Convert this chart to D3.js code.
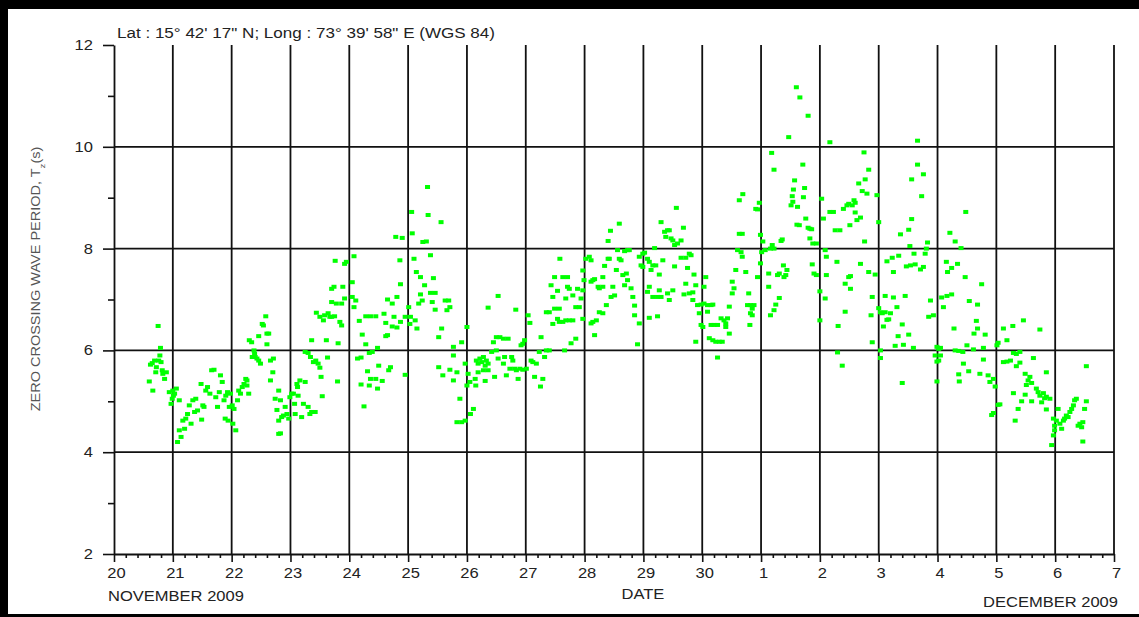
<!DOCTYPE html>
<html><head><meta charset="utf-8">
<script src="https://cdn.jsdelivr.net/npm/d3@7"></script>
<style>
body{margin:0;background:#fff}
svg{display:block}
text{font-family:"Liberation Sans",Arial,sans-serif}
</style></head>
<body><svg id="c" width="1139" height="617"></svg>
<script>
// Day axis: November days continue past 30 (31 = 1 Dec ... 37 = 7 Dec)
const dayTicks = [20,21,22,23,24,25,26,27,28,29,30,31,32,33,34,35,36,37];
const dayLabels = ["20","21","22","23","24","25","26","27","28","29","30","1","2","3","4","5","6","7"];
const periodTicks = [2,4,6,8,10,12];
const periodMinorTicks = [3,5,7,9,11];
const headerText = "Lat : 15\u00b0 42' 17\" N; Long : 73\u00b0 39' 58\" E (WGS 84)";

// [day, zero crossing wave period Tz (s)]
const periodSamples = [
[20.75,6.48],[20.79,6.05],[20.78,5.90],[20.76,5.80],[20.65,5.75],[20.62,5.72],[20.69,5.80],[20.72,5.67],[20.71,5.57],[20.80,5.77],
[20.82,5.61],[20.89,5.57],[20.86,5.44],[20.60,5.39],[20.66,5.21],[20.83,5.54],[20.94,5.18],[21.00,5.21],[21.03,5.15],[20.99,5.05],
[21.06,5.25],[20.97,4.95],[21.11,5.02],[21.01,5.11],[21.08,4.20],[21.11,4.43],[21.14,4.30],[21.20,4.46],[21.17,4.62],[21.22,4.66],
[21.28,4.92],[21.34,5.02],[21.25,4.75],[21.31,4.56],[21.37,4.79],[21.39,5.05],[21.42,4.82],[21.49,4.64],[21.48,5.34],[21.51,4.92],
[21.56,5.21],[21.53,4.89],[21.59,5.28],[21.63,5.15],[21.66,5.61],[21.70,5.62],[21.73,5.08],[21.76,4.89],[21.79,5.18],[21.81,5.51],
[21.84,5.38],[21.87,5.02],[21.90,5.11],[21.93,5.18],[21.96,4.89],[21.98,5.15],[21.89,4.66],[21.94,4.62],[22.01,4.92],[22.04,4.85],
[22.07,4.43],[22.02,4.56],[22.10,5.02],[22.12,5.21],[22.15,5.15],[22.18,5.28],[22.21,5.34],[22.24,5.44],[22.26,5.31],[22.29,5.15],
[22.26,5.41],[22.30,6.20],[22.34,6.16],[22.38,6.00],[22.39,5.93],[22.40,5.87],[22.35,5.87],[22.43,5.84],[22.46,5.80],[22.49,5.74],
[22.46,6.28],[22.52,6.52],[22.54,6.49],[22.58,6.67],[22.60,6.33],[22.63,6.33],[22.60,6.12],[22.66,5.80],[22.71,5.84],[22.70,5.57],
[22.66,5.41],[22.74,5.05],[22.80,5.21],[22.77,4.83],[22.83,5.02],[22.85,4.69],[22.80,4.62],[22.88,4.72],[22.91,4.89],[22.94,4.75],
[22.97,4.66],[22.80,4.36],[22.83,4.37],[22.99,5.08],[23.02,5.15],[23.05,5.15],[23.07,4.95],[23.08,4.75],[23.11,5.34],[23.12,5.28],
[23.16,5.41],[23.13,5.11],[23.19,4.69],[23.22,4.95],[23.25,5.38],[23.30,4.89],[23.33,4.75],[23.36,4.79],[23.42,4.79],[23.25,5.97],
[23.30,5.95],[23.34,5.87],[23.39,5.77],[23.43,5.80],[23.47,5.74],[23.50,5.66],[23.52,5.48],[23.54,5.10],[23.36,6.20],[23.44,6.74],
[23.50,6.66],[23.56,6.59],[23.58,6.69],[23.61,6.20],[23.64,6.73],[23.63,5.86],[23.67,6.66],[23.70,6.66],[23.75,6.67],[23.81,6.14],
[23.80,5.39],[23.84,6.56],[23.87,6.49],[23.76,7.76],[23.92,7.70],[23.95,7.74],[23.70,7.21],[23.74,7.25],[23.89,7.25],[23.70,6.95],
[23.78,6.92],[23.87,6.92],[23.92,7.02],
[24.08,7.85],[24.05,7.34],[24.11,6.98],[24.08,6.85],[24.05,7.05],[24.17,6.58],[24.22,6.31],[24.28,6.12],[24.28,6.67],[24.36,6.67],
[24.45,6.67],[24.14,5.84],[24.20,5.86],[24.34,5.95],[24.39,5.97],[24.48,6.05],[24.31,5.59],[24.36,5.44],[24.45,5.44],[24.56,5.40],
[24.50,5.70],[24.70,5.67],[24.67,5.61],[24.20,5.33],[24.34,5.31],[24.48,5.25],[24.25,4.90],[24.59,6.72],[24.65,7.00],[24.73,6.92],
[24.81,7.05],[24.87,7.30],[24.86,7.77],[24.79,8.23],[24.90,8.21],[24.76,6.66],[24.62,6.54],[24.73,6.47],[24.81,6.45],[24.87,6.56],
[24.95,6.66],[24.62,6.28],[24.65,6.30],[24.95,5.52],[25.06,8.72],[25.07,8.30],[25.10,7.80],[25.14,7.54],[25.21,7.44],[25.28,7.28],
[25.25,8.13],[25.31,8.14],[25.34,8.66],[25.33,9.21],[25.56,8.52],[25.38,7.87],[25.43,7.42],[25.38,7.13],[25.46,7.13],[25.41,6.95],
[25.21,7.10],[25.18,6.92],[25.24,6.98],[25.01,6.85],[25.04,6.66],[25.12,6.59],[25.03,6.52],[25.15,6.43],[25.46,6.80],[25.63,6.98],
[25.69,6.98],[25.71,6.85],[25.66,6.79],[25.57,6.43],[25.52,6.26],[25.77,6.07],[25.77,5.90],[25.83,5.57],[25.71,5.62],[25.52,5.67],
[25.59,5.51],[25.77,5.41],[26.00,6.46],[25.91,6.16],[25.97,5.74],[26.02,5.54],[26.00,5.31],[25.88,5.05],[26.11,4.85],[26.06,4.75],
[25.83,4.59],[25.91,4.59],[25.97,4.62],[26.05,5.38],[26.14,5.44],[26.15,5.31],
[26.16,5.80],[26.19,5.74],[26.22,5.84],[26.25,5.77],[26.28,5.87],[26.31,5.70],[26.33,5.80],[26.36,5.74],[26.28,5.61],[26.19,5.57],
[26.31,5.40],[26.36,5.61],[26.42,5.97],[26.45,6.16],[26.50,6.26],[26.56,6.26],[26.62,6.23],[26.70,6.23],[26.50,6.00],[26.53,5.84],
[26.62,5.74],[26.64,5.87],[26.67,5.51],[26.73,5.64],[26.78,5.80],[26.81,5.64],[26.84,5.61],[26.87,5.44],[26.90,5.64],[26.95,5.62],
[27.01,5.64],[26.47,5.48],[26.76,5.87],[26.95,6.13],[26.92,6.10],[26.98,6.20],[27.04,6.69],[27.07,6.54],[27.09,5.80],[27.12,5.77],
[27.15,5.48],[27.18,5.74],[27.23,5.97],[27.26,6.26],[27.29,5.44],[27.25,5.29],[27.32,5.87],[27.35,6.00],[27.40,6.00],[27.66,6.00],
[27.77,6.14],[27.85,6.23],[26.53,7.07],[26.36,6.84],[26.83,6.80],[27.35,6.75],[27.40,6.75],[27.46,6.52],[27.49,6.82],[27.54,6.62],
[27.57,6.56],[27.63,6.56],[27.68,6.59],[27.74,6.59],[27.80,6.59],[27.46,7.05],[27.57,6.82],[27.68,7.02],[27.71,7.25],[27.74,7.21],
[27.80,7.08],[27.85,6.85],[27.91,6.85],[27.94,7.02],[27.97,7.18],[27.49,7.44],[27.54,7.17],[27.58,7.80],[27.43,7.28],[27.63,7.44],
[27.71,7.44],[27.88,7.21],[27.97,7.57],[28.02,7.80],[27.99,7.38],[27.97,6.62],
[28.08,7.84],[28.11,7.77],[28.14,7.38],[28.11,7.35],[28.17,7.40],[28.23,7.25],[28.25,7.22],[28.31,7.25],[28.31,7.44],[28.34,7.66],
[28.40,7.80],[28.42,7.80],[28.40,8.15],[28.44,8.35],[28.59,8.49],[28.56,7.97],[28.68,7.95],[28.73,7.97],[28.76,7.97],[28.59,7.80],
[28.62,7.77],[28.54,7.58],[28.48,7.25],[28.45,7.05],[28.51,7.08],[28.65,7.48],[28.71,7.51],[28.73,7.38],[28.68,7.28],[28.79,7.22],
[28.82,7.05],[28.85,6.88],[28.37,6.89],[28.25,6.75],[28.31,6.73],[28.20,6.59],[28.14,6.56],[28.11,6.53],[28.17,6.30],[28.85,6.69],
[28.93,6.53],[28.90,6.12],[28.93,7.84],[28.96,7.67],[28.99,7.64],[28.99,7.90],
[29.02,7.92],[29.07,7.80],[29.10,7.74],[29.13,7.58],[29.16,7.67],[29.21,7.67],[29.19,8.01],[29.27,7.49],[29.33,7.77],[29.30,8.52],
[29.36,8.33],[29.38,8.23],[29.41,8.36],[29.44,8.36],[29.47,8.20],[29.50,8.16],[29.53,8.07],[29.58,8.10],[29.64,8.16],[29.56,8.80],
[29.68,8.41],[29.64,7.82],[29.72,7.82],[29.78,7.90],[29.81,7.87],[29.75,7.62],[29.86,7.49],[29.53,7.65],[29.10,7.25],[29.07,7.15],
[29.16,7.05],[29.24,7.05],[29.30,7.05],[29.27,7.18],[29.41,7.12],[29.44,6.99],[29.50,7.18],[29.69,7.10],[29.78,7.12],[29.84,7.14],
[29.72,7.31],[29.89,7.28],[29.84,6.99],[29.92,6.89],[29.98,6.90],[29.95,6.73],[30.03,6.92],[30.06,7.44],[30.03,7.25],[30.09,6.89],
[30.15,6.89],[30.18,6.90],[30.09,6.76],[29.98,6.50],[30.01,6.46],[29.89,6.17],[29.10,6.64],[29.24,6.67],
[30.12,6.24],[30.18,6.20],[30.23,6.17],[30.29,6.17],[30.34,6.17],[30.26,5.86],[30.15,6.50],[30.20,6.50],[30.26,6.50],[30.32,6.63],
[30.37,6.59],[30.40,6.53],[30.43,6.63],[30.40,6.46],[30.46,6.33],[30.46,6.86],[30.51,7.12],[30.54,7.22],[30.51,7.35],[30.57,7.58],
[30.60,7.97],[30.66,7.93],[30.68,7.84],[30.63,8.95],[30.69,9.07],[30.74,7.54],[30.79,7.12],[30.77,6.89],[30.82,6.89],[30.85,6.82],
[30.88,6.89],[30.82,6.73],[30.85,6.69],[30.81,6.50],[30.91,8.78],[30.94,8.77],[30.97,8.90],[30.99,8.27],[30.99,7.71],[31.01,7.93],
[31.03,8.14],[31.07,7.97],[30.94,7.44],[30.63,8.29],[30.68,8.29],
[31.13,7.51],[31.16,8.00],[31.19,8.07],[31.22,8.00],[31.28,7.48],[31.31,7.51],[31.34,8.15],[31.36,8.18],[31.38,7.67],[31.39,7.44],
[31.42,7.48],[31.44,7.58],[31.18,9.88],[31.22,9.55],[31.47,10.19],[31.51,8.85],[31.54,8.92],[31.57,9.34],[31.55,9.16],[31.53,9.03],
[31.62,8.82],[31.61,8.47],[31.65,8.46],[31.71,9.65],[31.74,9.19],[31.72,9.01],[31.76,8.59],[31.80,8.41],[31.83,8.39],[31.86,8.38],
[31.83,8.20],[31.88,8.10],[31.94,8.10],[31.60,11.17],[31.66,10.97],[31.80,10.61],[31.13,7.25],[31.31,7.03],[31.25,6.90],[31.22,6.79],
[31.16,6.69],[31.90,7.51],[31.87,7.69],[31.94,7.48],
[32.03,8.98],[32.06,8.59],[32.09,7.97],[32.11,7.84],[32.17,8.72],[32.23,8.72],[32.26,8.36],[32.29,7.74],[32.34,8.36],[32.40,8.78],
[32.46,8.85],[32.49,8.88],[32.49,7.44],[32.51,8.46],[32.43,7.31],[32.00,7.16],[32.09,7.02],[32.11,7.48],[32.00,6.59],[32.31,6.48],
[32.30,5.96],[32.38,5.70],[32.43,6.76],[32.17,10.09],
[32.75,9.89],[32.83,9.55],[32.77,9.36],[32.66,9.28],[32.72,9.13],[32.80,9.08],[32.58,8.95],[32.60,8.90],[32.55,8.85],[32.60,8.71],
[32.69,8.61],[32.63,8.56],[32.97,9.05],[33.00,8.52],[32.76,8.14],[32.69,7.70],[32.52,7.46],[32.52,7.21],[32.83,7.54],[32.94,7.49],
[32.89,7.05],[32.87,6.69],[32.89,6.16],[33.00,6.83],[33.03,6.75],[33.06,6.73],[33.11,6.75],[33.20,6.73],[33.14,6.60],[33.08,6.47],
[33.03,6.00],[33.03,5.85],
[33.14,7.75],[33.23,7.82],[33.34,7.86],[33.25,7.54],[33.11,7.07],[33.25,7.04],[33.45,7.07],[33.31,6.85],[33.17,6.61],[33.40,6.51],
[33.33,6.28],[33.28,6.09],[33.42,6.11],[33.51,6.31],[33.59,6.05],[33.40,5.36],[33.47,7.65],[33.54,7.67],[33.62,7.69],[33.71,7.59],
[33.76,7.64],[33.60,7.90],[33.79,7.90],[33.83,8.12],[33.81,8.00],[33.53,8.05],[33.37,8.28],[33.51,8.37],[33.56,8.58],[33.73,9.03],
[33.76,9.46],[33.66,9.65],[33.56,9.36],[33.66,10.12],[33.88,6.98],[33.85,6.66],[33.93,6.69],[34.10,6.85],[34.07,7.04],[34.16,7.07],
[34.24,7.10],
[33.99,6.07],[34.02,6.03],[34.05,6.05],[33.96,5.90],[33.99,5.78],[34.02,5.80],[34.05,5.90],[33.99,5.39],[34.21,8.31],[34.30,8.14],
[34.40,8.01],[34.48,8.72],[34.15,7.74],[34.17,7.54],[34.24,7.62],[34.34,7.70],[34.47,7.44],[34.75,7.30],[34.54,6.97],[34.68,6.90],
[34.66,6.58],[34.68,6.43],[34.62,6.33],[34.81,6.31],[34.28,6.43],[34.30,6.00],[34.36,5.99],[34.43,5.97],[34.50,6.10],[34.61,6.02],
[34.78,6.05],[35.01,6.10],[35.03,6.15],[35.12,6.43],[35.18,6.20],[35.28,6.48],[35.46,6.59],[35.74,6.41],[34.44,5.74],[34.53,5.59],
[34.36,5.53],[34.37,5.39],[34.72,5.54],[34.78,5.82],[34.86,5.51],[34.89,5.38],[34.95,5.44],[34.98,5.29],[35.03,4.93],[34.95,4.77],
[34.92,4.73],
[35.12,5.77],[35.18,5.78],[35.24,5.80],[35.29,5.95],[35.34,5.93],[35.40,5.97],[35.34,5.69],[35.40,5.76],[35.49,5.54],[35.54,5.41],
[35.57,5.48],[35.60,5.36],[35.51,5.32],[35.63,5.85],[35.85,5.57],[35.68,5.25],[35.71,5.18],[35.74,5.11],[35.80,5.16],[35.82,5.06],
[35.85,5.09],[35.91,5.05],[35.37,4.85],[35.43,5.00],[35.49,5.13],[35.29,5.16],[35.06,4.94],[35.32,4.62],[35.60,5.00],[35.77,4.98],
[35.85,4.84],
[35.97,4.66],[35.99,4.52],[36.02,4.62],[36.05,4.85],[36.08,4.56],[36.11,4.46],[36.14,4.62],[36.16,4.66],[36.19,4.72],[36.22,4.69],
[36.25,4.79],[36.28,4.85],[36.31,4.92],[36.33,5.02],[36.36,5.05],[35.99,4.43],[35.97,4.33],[35.94,4.14],[36.39,4.52],[36.42,4.56],
[36.45,4.49],[36.47,4.59],[36.50,4.85],[36.53,5.00],[36.53,5.69],[36.47,4.21]
];

const W = 1139, H = 617;
const svg = d3.select('#c');
const ink = '#111';
const textInk = '#222';
const STRETCH = 1.18;

function stretch(sel, k) {
  sel.each(function () {
    const L = this.getComputedTextLength();
    this.setAttribute('textLength', (L * k).toFixed(1));
    this.setAttribute('lengthAdjust', 'spacingAndGlyphs');
  });
}

// outer frame (black band at top, left, bottom)
svg.append('rect').attr('x', 0).attr('y', 0).attr('width', W).attr('height', 9).attr('fill', '#000');
svg.append('rect').attr('x', 0).attr('y', 0).attr('width', 8).attr('height', H).attr('fill', '#000');
svg.append('rect').attr('x', 0).attr('y', 614).attr('width', W).attr('height', 3).attr('fill', '#000');

const x = d3.scaleLinear().domain([20, 37]).range([114, 1114]);
const y = d3.scaleLinear().domain([2, 12]).range([554, 45]);

// grid
const grid = svg.append('g');
grid.selectAll('line.v').data(dayTicks.filter(d => d > 20)).join('line')
  .attr('class', 'v')
  .attr('x1', d => x(d)).attr('x2', d => x(d))
  .attr('y1', y(12)).attr('y2', y(2))
  .attr('stroke', ink).attr('stroke-width', 1.8);
grid.selectAll('line.h').data(periodTicks.filter(d => d > 2 && d < 12)).join('line')
  .attr('class', 'h')
  .attr('x1', x(20)).attr('x2', x(37))
  .attr('y1', d => y(d)).attr('y2', d => y(d))
  .attr('stroke', ink).attr('stroke-width', 1.8);

// data markers
svg.append('g').selectAll('rect').data(periodSamples).join('rect')
  .attr('x', d => x(d[0]) - 2.5).attr('y', d => y(d[1]) - 2)
  .attr('width', 5).attr('height', 4)
  .attr('fill', '#00ff00');

// x axis
const xAxisG = svg.append('g').attr('transform', `translate(0,${y(2)})`)
  .call(d3.axisBottom(x).tickValues(dayTicks).tickSize(8).tickSizeOuter(0)
    .tickPadding(6).tickFormat((d, i) => dayLabels[i]));
const xMinor = [];
dayTicks.slice(0, -1).forEach(d => { for (let k = 1; k < 5; k++) xMinor.push(d + k / 5); });
const xMinorG = svg.append('g').attr('transform', `translate(0,${y(2)})`)
  .call(d3.axisBottom(x).tickValues(xMinor).tickSize(4).tickSizeOuter(0).tickFormat(''));
xMinorG.select('.domain').remove();

// y axis
const yAxisG = svg.append('g').attr('transform', `translate(${x(20)},0)`)
  .call(d3.axisLeft(y).tickValues(periodTicks).tickSize(11).tickSizeOuter(0)
    .tickPadding(10).tickFormat(d3.format('d')));
const yMinorG = svg.append('g').attr('transform', `translate(${x(20)},0)`)
  .call(d3.axisLeft(y).tickValues(periodMinorTicks).tickSize(6).tickSizeOuter(0).tickFormat(''));
yMinorG.select('.domain').remove();

[xAxisG, xMinorG, yAxisG, yMinorG].forEach(g => {
  g.selectAll('path.domain').attr('stroke', ink).attr('stroke-width', 1.8);
  g.selectAll('.tick line').attr('stroke', ink).attr('stroke-width', 1.6);
  g.selectAll('.tick text').attr('fill', textInk).style('font-size', '14px')
    .style('font-family', '"Liberation Sans",Arial,sans-serif');
});
xAxisG.selectAll('.tick text').attr('dy', '0.71em').attr('dx', 2);
stretch(xAxisG.selectAll('.tick text'), STRETCH);
stretch(yAxisG.selectAll('.tick text'), STRETCH);

// header
svg.append('text').attr('x', 117).attr('y', 38)
  .attr('fill', textInk).style('font-size', '14px')
  .attr('textLength', 378).attr('lengthAdjust', 'spacingAndGlyphs')
  .text(headerText);

// x titles
const nov = svg.append('text').attr('x', 108).attr('y', 601)
  .attr('fill', textInk).style('font-size', '14px').text('NOVEMBER 2009');
stretch(nov, STRETCH);
const dateT = svg.append('text').attr('x', 643).attr('y', 599).attr('text-anchor', 'middle')
  .attr('fill', textInk).style('font-size', '14px').text('DATE');
stretch(dateT, STRETCH);
const dec = svg.append('text').attr('x', 1118).attr('y', 607).attr('text-anchor', 'end')
  .attr('fill', textInk).style('font-size', '14px').text('DECEMBER 2009');
stretch(dec, STRETCH);

// y title with subscript
const yt = svg.append('text')
  .attr('transform', `translate(40,279) rotate(-90) scale(1.21,1)`)
  .attr('text-anchor', 'middle').attr('fill', '#555').style('font-size', '12px');
yt.append('tspan').text('ZERO CROSSING WAVE PERIOD, T');
yt.append('tspan').attr('baseline-shift', 'sub').style('font-size', '8px').text('z');
yt.append('tspan').text('(s)');
</script></body></html>
